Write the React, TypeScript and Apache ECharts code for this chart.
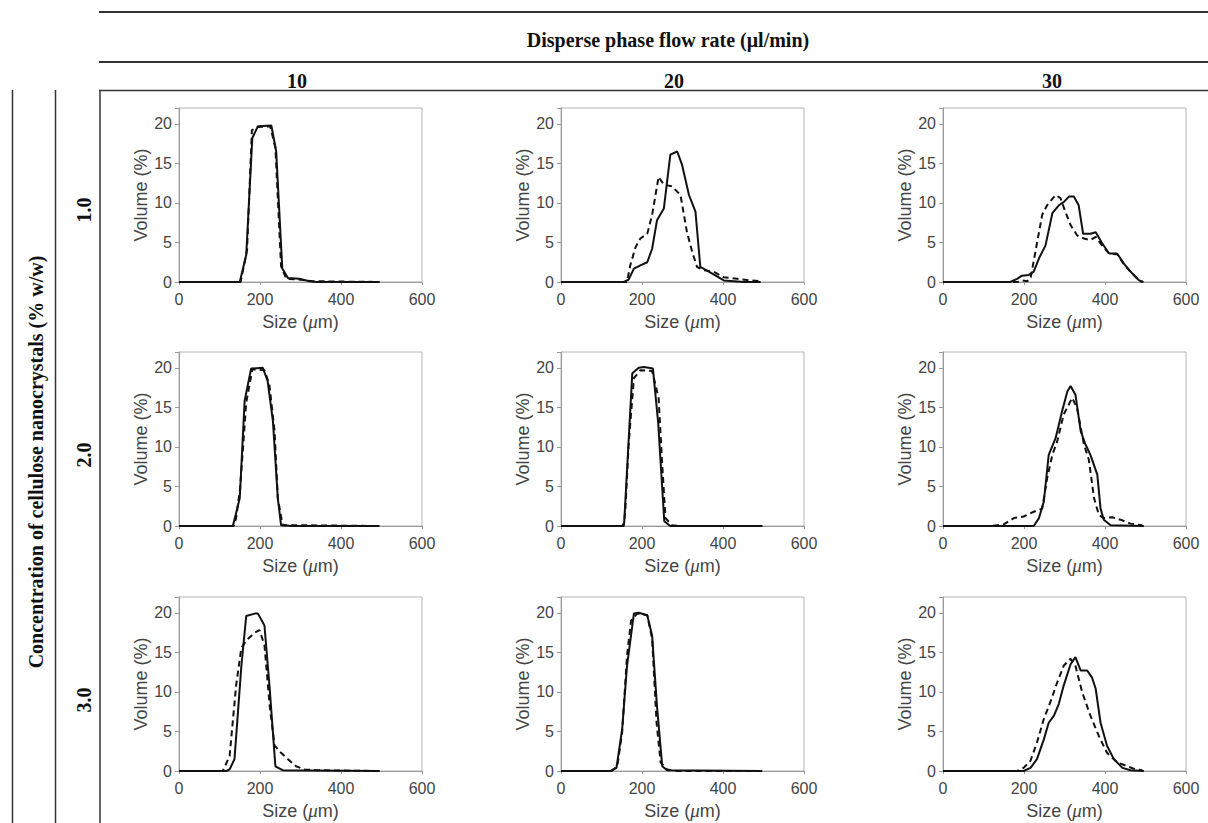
import React, { useEffect, useRef } from "react";
import * as echarts from "echarts";

// ---- labels ----
const TITLE = "Disperse phase flow rate (μl/min)";
const ROW_TITLE = "Concentration of cellulose nanocrystals (% w/w)";
const FLOW_RATES = ["10", "20", "30"];
const CONCENTRATIONS = ["1.0", "2.0", "3.0"];
const X_TICKS = [0, 200, 400, 600];
const Y_TICKS = [0, 5, 10, 15, 20];

// ---- data: [size (µm), volume (%)] ----
// concentration 1.0
const c1_f10_solid: [number, number][] = [[0,0],[150,0],[166,3.4],[181,18.2],[195,19.7],[228,19.8],[240,16.5],[255,1.7],[269,0.5],[297,0.4],[322,0.1],[340,0],[495,0]];
const c1_f10_dash: [number, number][] = [[0,0],[152,0],[168,4],[180,19.2],[195,19.6],[225,19.7],[238,17],[252,2],[265,0.4],[300,0.3],[330,0.1],[495,0]];
const c1_f20_solid: [number, number][] = [[0,0],[155,0],[167,0.3],[180,1.7],[196,2.1],[213,2.5],[225,4.2],[237,7.8],[254,9.3],[270,16.1],[287,16.5],[299,14.8],[316,11],[332,8.9],[344,1.9],[365,1.3],[382,0.8],[402,0.2],[452,0],[493,0]];
const c1_f20_dash: [number, number][] = [[0,0],[163,0],[171,2.1],[184,4.4],[196,5.5],[213,6.1],[225,8.5],[241,13.3],[254,12.3],[274,12.1],[295,11],[311,6.3],[324,3.8],[336,1.9],[353,1.5],[377,1.3],[402,0.6],[435,0.4],[468,0.2],[493,0.1]];
const c1_f30_solid: [number, number][] = [[0,0],[166,0],[183,0.4],[195,0.8],[212,0.9],[224,1.3],[237,3],[253,4.6],[270,8.7],[286,9.7],[298,10.1],[311,10.8],[323,10.8],[335,9.7],[346,6.1],[364,6.1],[377,6.3],[393,4.9],[410,3.6],[430,3.6],[447,2.3],[467,1.1],[484,0.2],[495,0]];
const c1_f30_dash: [number, number][] = [[0,0],[185,0],[195,0.2],[208,0.1],[216,0.4],[228,3.8],[245,8.5],[257,9.7],[278,11],[290,10.6],[302,8.9],[315,7.2],[331,5.9],[348,5.5],[364,5.3],[377,5.7],[393,4.6],[410,3.6],[430,3.5],[447,2.2],[463,1.3],[484,0.2],[492,0]];
// concentration 2.0
const c2_f10_solid: [number, number][] = [[0,0],[133,0],[150,3.5],[162,15.8],[178,19.9],[207,20],[219,18.3],[232,13.2],[244,3.5],[252,0.1],[281,0],[495,0]];
const c2_f10_dash: [number, number][] = [[0,0],[135,0],[141,1],[151,4.8],[166,15.6],[181,19.8],[211,19.7],[223,17.9],[236,12],[244,3.5],[256,0.1],[289,0.1],[495,0]];
const c2_f20_solid: [number, number][] = [[0,0],[151,0],[156,0.4],[176,19.3],[192,20],[205,20.1],[227,19.9],[240,13],[255,0.6],[270,0],[497,0]];
const c2_f20_dash: [number, number][] = [[0,0],[155,0],[159,2.2],[167,10.3],[180,18.7],[196,19.7],[225,19.6],[241,16.2],[250,7.7],[258,1],[274,0.1],[295,0],[497,0]];
const c2_f30_solid: [number, number][] = [[0,0],[224,0],[237,1],[249,3.1],[261,9],[278,11.1],[294,14.5],[307,17],[315,17.7],[327,16.6],[340,12],[352,10.3],[364,9],[381,6.5],[389,2.2],[397,0.8],[414,0.1],[496,0]];
const c2_f30_dash: [number, number][] = [[0,0],[117,0],[150,0.2],[175,1],[199,1.2],[224,1.8],[245,2.2],[257,6],[270,9],[282,10.7],[298,14.1],[319,16.2],[331,14.9],[348,10.3],[360,8.4],[373,3.5],[385,1.4],[397,1],[418,1.1],[438,0.8],[463,0.3],[492,0.1]];
// concentration 3.0
const c3_f10_solid: [number, number][] = [[0,0],[117,0],[125,0.2],[137,1.5],[154,13.3],[166,19.6],[187,19.9],[195,19.9],[211,18.4],[224,10.4],[238,0.6],[256,0.1],[495,0]];
const c3_f10_dash: [number, number][] = [[0,0],[108,0],[125,1.9],[141,10.8],[154,15.6],[170,16.7],[187,17.5],[199,17.8],[211,15.9],[224,8.2],[236,3.2],[252,2.3],[269,1.5],[289,0.6],[310,0.2],[339,0.1],[495,0]];
const c3_f20_solid: [number, number][] = [[0,0],[122,0],[137,0.4],[151,5.3],[163,13.3],[180,19.9],[192,20],[213,19.7],[225,17.1],[237,8.2],[250,0.6],[262,0.1],[497,0]];
const c3_f20_dash: [number, number][] = [[0,0],[125,0],[139,0.6],[151,4.9],[163,14.6],[173,19],[188,19.9],[213,19.7],[225,16.7],[236,6.1],[246,1.1],[262,0.2],[287,0],[497,0]];
const c3_f30_solid: [number, number][] = [[0,0],[199,0],[216,0.4],[232,1.5],[249,4],[261,6.1],[274,7],[286,8.5],[298,10.8],[315,13.5],[327,14.4],[340,12.7],[356,12.7],[368,11.8],[377,10.4],[389,6.1],[405,3.2],[422,1.5],[443,0.4],[463,0.1],[496,0]];
const c3_f30_dash: [number, number][] = [[0,0],[183,0],[199,0.4],[216,1.3],[232,3.6],[249,6.6],[265,8.7],[282,11.2],[298,13.3],[315,14.2],[327,13.3],[344,9.9],[364,7],[385,4.4],[405,2.3],[430,1.1],[455,0.6],[476,0.2],[492,0.1]];

const SOLID = [
  [c1_f10_solid, c1_f20_solid, c1_f30_solid],
  [c2_f10_solid, c2_f20_solid, c2_f30_solid],
  [c3_f10_solid, c3_f20_solid, c3_f30_solid],
];
const DASHED = [
  [c1_f10_dash, c1_f20_dash, c1_f30_dash],
  [c2_f10_dash, c2_f20_dash, c2_f30_dash],
  [c3_f10_dash, c3_f20_dash, c3_f30_dash],
];

// ---- layout ----
const GRID_LEFTS = [179, 561, 943];
const GRID_TOPS = [108, 352, 597];
const GRID_W = 243;
const GRID_H = 174;
const COL_CENTERS = [297, 674, 1052];
const ROW_CENTERS = [210, 455, 700];

const SANS = '"Liberation Sans", Arial, Helvetica, sans-serif';
const SERIF = '"Liberation Serif", "Times New Roman", serif';

export default function App() {
  const ref = useRef<HTMLDivElement>(null);
  useEffect(() => {
    if (!ref.current) return;
    const chart = echarts.init(ref.current, undefined, { renderer: "svg" });
    const grids: any[] = [];
    const xAxes: any[] = [];
    const yAxes: any[] = [];
    const series: any[] = [];
    let idx = 0;
    for (let r = 0; r < 3; r++) {
      for (let c = 0; c < 3; c++) {
        grids.push({
          left: GRID_LEFTS[c],
          top: GRID_TOPS[r],
          width: GRID_W,
          height: GRID_H,
          show: true,
          borderColor: "#b4b4b4",
          borderWidth: 1,
          backgroundColor: "transparent",
        });
        xAxes.push({
          type: "value",
          gridIndex: idx,
          min: X_TICKS[0],
          max: X_TICKS[X_TICKS.length - 1],
          interval: X_TICKS[1] - X_TICKS[0],
          name: "Size ({i|μ}m)",
          nameLocation: "middle",
          nameGap: 30,
          nameTextStyle: {
            fontFamily: SANS,
            fontSize: 18,
            color: "#444",
            rich: { i: { fontFamily: SERIF, fontStyle: "italic", fontSize: 19, color: "#444" } },
          },
          axisLine: { show: true, lineStyle: { color: "#999", width: 1 } },
          axisTick: { show: true, length: 3, inside: false, lineStyle: { color: "#999" } },
          axisLabel: { fontFamily: SANS, fontSize: 16, color: "#444", margin: 9 },
          splitLine: { show: false },
        });
        yAxes.push({
          type: "value",
          gridIndex: idx,
          min: 0,
          max: 22,
          interval: 5,
          name: "Volume (%)",
          nameLocation: "middle",
          nameGap: 28,
          nameTextStyle: { fontFamily: SANS, fontSize: 18, color: "#444" },
          axisLine: { show: true, lineStyle: { color: "#999", width: 1 } },
          axisTick: { show: true, length: 4, inside: false, lineStyle: { color: "#999" } },
          axisLabel: {
            fontFamily: SANS,
            fontSize: 16,
            color: "#444",
            margin: 7,
            formatter: (v: number) => (Y_TICKS.indexOf(v) >= 0 ? String(v) : ""),
          },
          splitLine: { show: false },
        });
        series.push({
          type: "line",
          xAxisIndex: idx,
          yAxisIndex: idx,
          data: SOLID[r][c],
          showSymbol: false,
          symbol: "none",
          lineStyle: { color: "#111", width: 2, type: "solid" },
          z: 3,
        });
        series.push({
          type: "line",
          xAxisIndex: idx,
          yAxisIndex: idx,
          data: DASHED[r][c],
          showSymbol: false,
          symbol: "none",
          lineStyle: { color: "#111", width: 2, type: [6, 4] },
          z: 2,
        });
        idx++;
      }
    }

    const lineStyle = { stroke: "#333", lineWidth: 1.5 };
    const headFont = `bold 20px ${SERIF}`;
    const graphic: any[] = [
      { type: "line", shape: { x1: 99, y1: 12, x2: 1208, y2: 12 }, style: { stroke: "#333", lineWidth: 2 } },
      { type: "line", shape: { x1: 99, y1: 62, x2: 1208, y2: 62 }, style: { stroke: "#333", lineWidth: 2 } },
      { type: "line", shape: { x1: 99, y1: 90.5, x2: 1208, y2: 90.5 }, style: lineStyle },
      { type: "line", shape: { x1: 100, y1: 90, x2: 100, y2: 823 }, style: lineStyle },
      { type: "line", shape: { x1: 12.5, y1: 90, x2: 12.5, y2: 823 }, style: lineStyle },
      { type: "line", shape: { x1: 55.5, y1: 90, x2: 55.5, y2: 823 }, style: lineStyle },
      {
        type: "text",
        x: 668,
        y: 40,
        style: { text: TITLE, font: headFont, fill: "#111", align: "center", verticalAlign: "middle" },
      },
      {
        type: "text",
        x: 36,
        y: 462,
        rotation: Math.PI / 2,
        style: { text: ROW_TITLE, font: headFont, fill: "#111", align: "center", verticalAlign: "middle" },
      },
    ];
    FLOW_RATES.forEach((f, i) => {
      graphic.push({
        type: "text",
        x: COL_CENTERS[i],
        y: 81,
        style: { text: f, font: headFont, fill: "#111", align: "center", verticalAlign: "middle" },
      });
    });
    CONCENTRATIONS.forEach((cc, i) => {
      graphic.push({
        type: "text",
        x: 84,
        y: ROW_CENTERS[i],
        rotation: Math.PI / 2,
        style: { text: cc, font: headFont, fill: "#111", align: "center", verticalAlign: "middle" },
      });
    });

    chart.setOption({
      animation: false,
      backgroundColor: "#fff",
      grid: grids,
      xAxis: xAxes,
      yAxis: yAxes,
      series,
      graphic,
    });
    return () => chart.dispose();
  }, []);
  return (
    <div
      ref={ref}
      style={{ position: "fixed", left: 0, top: 0, width: 1208, height: 823 }}
    />
  );
}
